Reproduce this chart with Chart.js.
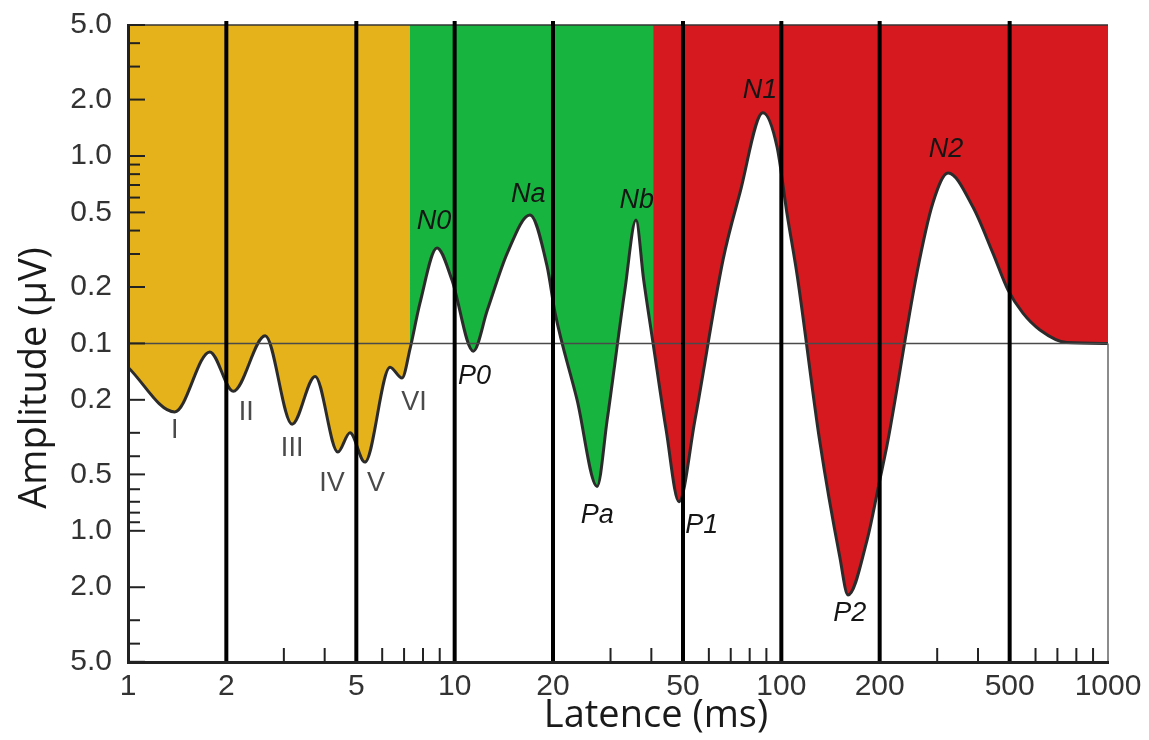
<!DOCTYPE html>
<html>
<head>
<meta charset="utf-8">
<title>Latence</title>
<script src="https://cdn.jsdelivr.net/npm/chart.js@4.4.1/dist/chart.umd.min.js"></script>
<style>
  html, body { margin: 0; background: #fff; }
  #wrap { width: 1149px; height: 740px; position: relative; }
</style>
</head>
<body>
<div id="wrap"><canvas id="c"></canvas></div>
<script>
'use strict';

// waveform: latency (ms) and amplitude (µV), negative = lower half
const latency = [1.0, 1.39, 1.78, 2.10, 2.63, 3.18, 3.74, 4.39, 4.78, 5.31, 6.34, 6.90, 7.30, 7.83,
  8.83, 9.81, 11.4, 12.6, 14.5, 17.0, 19.2, 20.3, 23.7, 27.3, 29.3, 33.2, 35.9, 37.9, 40.5, 44.4,
  48.6, 54.4, 66.3, 74.7, 87.8, 97.0, 104, 112, 131, 151, 160, 183, 200, 212, 260, 291, 324, 386,
  444, 494, 549, 619, 748, 1000];
const amplitude = [-0.134, -0.232, -0.111, -0.18, 0.11, -0.27, -0.15, -0.38, -0.30, -0.43, -0.134,
  -0.153, -0.107, 0.164, 0.323, 0.218, -0.11, 0.151, 0.304, 0.484, 0.256, 0.145, -0.2, -0.58, -0.256,
  0.193, 0.455, 0.218, -0.1, -0.29, -0.70, -0.256, 0.279, 0.635, 1.70, 1.12, 0.497, 0.226, -0.33,
  -1.38, -2.2, -1.12, -0.54, -0.33, 0.237, 0.561, 0.811, 0.534, 0.304, 0.193, 0.145, 0.118, 0.101, 0.1];

const zoneFrom = [1, 7.3, 40.5];
const zoneTo = [7.3, 40.5, 1000];
const zoneColor = ['#e5b21b', '#17b43f', '#d6191f'];

const xTicks = [1, 2, 5, 10, 20, 50, 100, 200, 500, 1000];
const xMinor = [3, 4, 6, 7, 8, 9, 30, 40, 60, 70, 80, 90, 300, 400, 600, 700, 800, 900];
const xLines = [2, 5, 10, 20, 50, 100, 200, 500];
const yTicks = [5, 2, 1, 0.5, 0.2, 0.1, -0.2, -0.5, -1, -2, -5];
const yMinor = [4, 3, 0.9, 0.8, 0.7, 0.6, 0.4, 0.3, -0.3, -0.4, -0.6, -0.7, -0.8, -0.9, -3, -4];

const labelNames = ['I', 'II', 'III', 'IV', 'V', 'VI', 'N0', 'P0', 'Na', 'Pa', 'Nb', 'P1', 'N1', 'P2', 'N2'];
const labelLat = [1.39, 2.30, 3.18, 4.21, 5.74, 7.51, 8.64, 11.5, 16.8, 27.3, 36.1, 57.1, 86.0, 162, 319];
const labelAmp = [-0.29, -0.235, -0.366, -0.56, -0.56, -0.208, 0.445, -0.151, 0.627, -0.824, 0.582,
  -0.931, 2.25, -2.75, 1.08];

// both halves are log scales meeting at 0.1
const sl = (a) => Math.sign(a) * Math.log10(Math.abs(a) / 0.1);
const pts = latency.map((l, i) => ({ x: l, y: sl(amplitude[i]) }));

const FONT = '"Liberation Sans", Arial, sans-serif';

const datasets = zoneFrom.map((f, i) => ({
  data: pts.filter((p) => p.x >= f && p.x <= zoneTo[i]),
  order: 1,
  fill: 'end',
  backgroundColor: zoneColor[i],
  borderWidth: 0,
  pointRadius: 0,
  cubicInterpolationMode: 'monotone',
}));
datasets.push({
  data: pts,
  order: 0,
  fill: false,
  borderColor: '#2b2b2b',
  borderWidth: 3,
  pointRadius: 0,
  cubicInterpolationMode: 'monotone',
});

function seg(ctx, x1, y1, x2, y2) {
  ctx.beginPath();
  ctx.moveTo(x1, y1);
  ctx.lineTo(x2, y2);
  ctx.stroke();
}

const deco = {
  id: 'deco',
  afterDatasetsDraw(chart) {
    const { ctx, chartArea: a, scales: { x, y } } = chart;
    ctx.save();
    const y0 = y.getPixelForValue(0);
    ctx.strokeStyle = '#4a4a4a';
    ctx.lineWidth = 1.5;
    seg(ctx, a.left, y0, a.right, y0);
    ctx.strokeStyle = '#333';
    seg(ctx, a.left, a.top, a.right, a.top);
    ctx.strokeStyle = '#666';
    seg(ctx, a.right, y0, a.right, a.bottom);

    ctx.strokeStyle = '#000';
    ctx.lineWidth = 4;
    xLines.forEach((v) => {
      const px = x.getPixelForValue(v);
      seg(ctx, px, a.top - 4, px, a.bottom);
    });

    ctx.strokeStyle = '#222';
    ctx.lineWidth = 2;
    xMinor.forEach((v) => {
      const px = x.getPixelForValue(v);
      seg(ctx, px, a.bottom, px, a.bottom - 14);
    });
    yTicks.forEach((v) => {
      const py = y.getPixelForValue(sl(v));
      seg(ctx, a.left, py, a.left + 17, py);
    });
    yMinor.forEach((v) => {
      const py = y.getPixelForValue(sl(v));
      seg(ctx, a.left, py, a.left + 12, py);
    });

    ctx.textAlign = 'center';
    ctx.textBaseline = 'middle';
    labelNames.forEach((n, i) => {
      const it = /^[NP]/.test(n);
      ctx.font = (it ? 'italic ' : '') + '27px ' + FONT;
      ctx.fillStyle = it ? '#151515' : '#4a4a4a';
      ctx.fillText(n, x.getPixelForValue(labelLat[i]), y.getPixelForValue(sl(labelAmp[i])));
    });
    ctx.restore();
  },
  afterDraw(chart) {
    const { ctx } = chart;
    ctx.save();
    ctx.fillStyle = '#1a1a1a';
    ctx.font = '38px "Open Sans", sans-serif';
    ctx.textAlign = 'center';
    ctx.textBaseline = 'middle';
    ctx.fillText('Latence (ms)', 656, 716);
    ctx.translate(35, 378);
    ctx.rotate(-Math.PI / 2);
    ctx.fillText('Amplitude (µV)', 0, 0);
    ctx.restore();
  },
};

new Chart(document.getElementById('c'), {
  type: 'line',
  data: { datasets },
  plugins: [deco],
  options: {
    responsive: true,
    maintainAspectRatio: false,
    animation: false,
    layout: { padding: { top: 25, right: 41, left: 0, bottom: 0 } },
    plugins: { legend: { display: false }, tooltip: { enabled: false } },
    scales: {
      x: {
        type: 'logarithmic',
        min: 1,
        max: 1000,
        grid: { display: false, drawTicks: false },
        border: { display: true, color: '#222', width: 3, z: 1 },
        afterBuildTicks: (s) => { s.ticks = xTicks.map((v) => ({ value: v })); },
        afterFit: (s) => { s.height = 78; },
        ticks: {
          autoSkip: false,
          maxRotation: 0,
          padding: 7,
          color: '#333',
          font: { family: FONT, size: 30 },
          callback: (v) => String(v),
        },
      },
      y: {
        type: 'linear',
        min: -1.70,
        max: Math.log10(50),
        grid: { display: false, drawTicks: false },
        border: { display: true, color: '#222', width: 3, z: 1 },
        afterBuildTicks: (s) => { s.ticks = yTicks.map((v) => ({ value: sl(v) })); },
        afterFit: (s) => {
          s.width = 128;
          s.paddingTop = 0;
          s.paddingBottom = 0;
        },
        ticks: {
          padding: 16,
          color: '#333',
          font: { family: FONT, size: 30 },
          callback: (v) => (0.1 * Math.pow(10, Math.abs(v))).toFixed(1),
        },
      },
    },
  },
});
</script>
</body>
</html>
